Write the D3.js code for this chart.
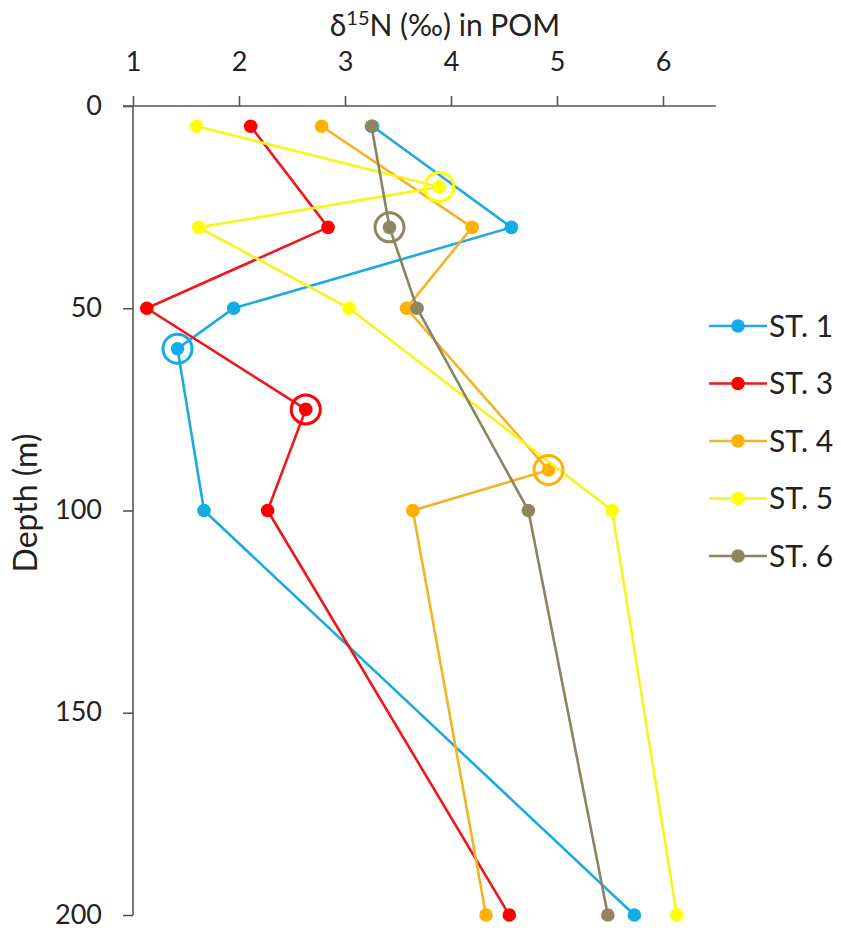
<!DOCTYPE html>
<html>
<head>
<meta charset="utf-8">
<script src="https://cdn.jsdelivr.net/npm/d3@7"></script>
<style>
  body { margin: 0; background: #fff; }
  text { font-family: Lato, "Open Sans", sans-serif; fill: #222; }
</style>
</head>
<body>
<svg id="chart"></svg>
<script>
const width = 841;
const height = 930;

// depth (m) of each sample
const depthsST1 = [5, 30, 50, 60, 100, 200];
const depthsST3 = [5, 30, 50, 75, 100, 200];
const depthsST4 = [5, 30, 50, 90, 100, 200];
const depthsST5 = [5, 20, 30, 50, 100, 200];
const depthsST6 = [5, 30, 50, 100, 200];

// d15N values (permil)
const valuesST1 = [3.26, 4.57, 1.95, 1.42, 1.67, 5.73];
const valuesST3 = [2.11, 2.84, 1.13, 2.63, 2.27, 4.55];
const valuesST4 = [2.78, 4.2, 3.58, 4.92, 3.64, 4.33];
const valuesST5 = [1.6, 3.89, 1.62, 3.04, 5.52, 6.13];
const valuesST6 = [3.25, 3.42, 3.68, 4.73, 5.48];

// depth of the circled point in each station
const highlightDepths = [60, 75, 90, 20, 30];

const stationNames = ['ST. 1', 'ST. 3', 'ST. 4', 'ST. 5', 'ST. 6'];
const stationColors = ['#12ACE6', '#FF0000', '#FFB000', '#FFFF00', '#8E8760'];
const lineColors = ['#1CAADF', '#F0161B', '#F2B324', '#F8F41A', '#8A8462'];

const xTicks = [1, 2, 3, 4, 5, 6];
const yTicks = [0, 50, 100, 150, 200];

const stations = stationNames.map((name, i) => {
  const depths = [depthsST1, depthsST3, depthsST4, depthsST5, depthsST6][i];
  const values = [valuesST1, valuesST3, valuesST4, valuesST5, valuesST6][i];
  return {
    name,
    color: stationColors[i],
    lineColor: lineColors[i],
    highlight: highlightDepths[i],
    points: depths.map((d, j) => ({ depth: d, value: values[j] }))
  };
});

const svg = d3.select('#chart')
  .attr('width', width)
  .attr('height', height);

const x = d3.scaleLinear().domain([1, 6.5]).range([133, 716]);
const y = d3.scaleLinear().domain([0, 200]).range([106, 915]);

// top axis
const xAxis = svg.append('g')
  .attr('transform', `translate(0,${y(0)})`)
  .call(d3.axisTop(x).tickValues(xTicks).tickSize(10).tickPadding(25).tickFormat(d3.format('d')));

const yAxis = svg.append('g')
  .attr('transform', `translate(${x(1)},0)`)
  .call(d3.axisLeft(y).tickValues(yTicks).tickSize(10).tickPadding(21));

[xAxis, yAxis].forEach(g => {
  g.select('.domain').attr('stroke', '#555').attr('stroke-width', 1.6);
  g.selectAll('.tick line').attr('stroke', '#555').attr('stroke-width', 1.6);
  g.selectAll('.tick text')
    .style('font-family', 'Lato, "Open Sans", sans-serif')
    .style('font-size', '27px')
    .attr('fill', '#222');
});
yAxis.selectAll('.tick text').attr('dy', '0.3em');
// extend the top axis line to the left like the original
xAxis.select('.domain').attr('d', `M${x(1) - 10},0H${x(6.5)}`);
yAxis.select('.domain').attr('d', `M0,${y(0)}V${y(200)}`);

// axis titles
const title = svg.append('text')
  .attr('x', 445)
  .attr('y', 36)
  .attr('text-anchor', 'middle')
  .style('font-size', '30px');
title.append('tspan').text('δ');
title.append('tspan').attr('dy', -11).style('font-size', '20px').text('15');
title.append('tspan').attr('dy', 11).text('N (‰) in POM');

svg.append('text')
  .attr('transform', 'translate(37,503) rotate(-90)')
  .attr('text-anchor', 'middle')
  .style('font-size', '32px')
  .text('Depth (m)');

const line = d3.line()
  .x(d => x(d.value))
  .y(d => y(d.depth));

const plot = svg.append('g');

stations.forEach(s => {
  const g = plot.append('g');
  g.append('path')
    .datum(s.points)
    .attr('d', line)
    .attr('fill', 'none')
    .attr('stroke', s.lineColor)
    .attr('stroke-width', 2.6);
  g.selectAll('circle.dot')
    .data(s.points)
    .join('circle')
    .attr('class', 'dot')
    .attr('cx', d => x(d.value))
    .attr('cy', d => y(d.depth))
    .attr('r', 6.8)
    .attr('fill', s.color);
});

// circled points
stations.forEach(s => {
  const p = s.points.find(d => d.depth === s.highlight);
  plot.append('circle')
    .attr('cx', x(p.value))
    .attr('cy', y(p.depth))
    .attr('r', 14.5)
    .attr('fill', 'none')
    .attr('stroke', s.color)
    .attr('stroke-width', 3);
});

// legend
const legend = svg.append('g').attr('transform', 'translate(709,326)');
const rows = legend.selectAll('g')
  .data(stations)
  .join('g')
  .attr('transform', (d, i) => `translate(0,${i * 57.5})`);
rows.append('line')
  .attr('x1', 0).attr('x2', 58)
  .attr('stroke', d => d.lineColor)
  .attr('stroke-width', 2.6);
rows.append('circle')
  .attr('cx', 29)
  .attr('r', 6.8)
  .attr('fill', d => d.color);
rows.append('text')
  .attr('x', 60)
  .attr('dy', '0.36em')
  .style('font-size', '30px')
  .text(d => d.name);
</script>
</body>
</html>
